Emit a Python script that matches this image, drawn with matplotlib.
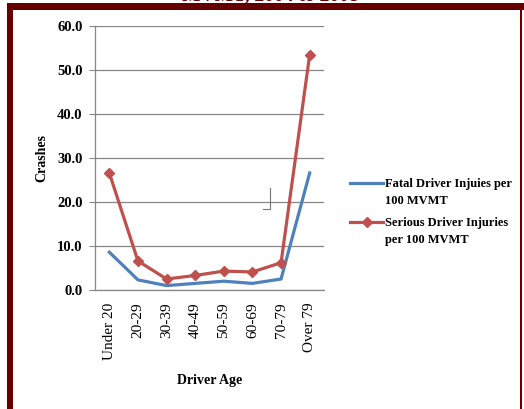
import matplotlib
matplotlib.use("Agg")
import matplotlib.pyplot as plt
from matplotlib.lines import Line2D
from matplotlib.patches import Rectangle
from matplotlib.legend_handler import HandlerLine2D

# Injury rates by driver age group
age_groups = ["Under 20", "20-29", "30-39", "40-49", "50-59", "60-69", "70-79", "Over 79"]
fatal = [8.6, 2.3, 1.0, 1.5, 2.0, 1.5, 2.5, 26.6]
serious = [26.6, 6.6, 2.5, 3.3, 4.3, 4.1, 6.2, 53.5]
y_ticks = [0, 10, 20, 30, 40, 50, 60]

plt.rcParams["font.family"] = ["Liberation Serif", "DejaVu Serif"]


class TopLineHandler(HandlerLine2D):
    """Legend line drawn level with the first line of a two-line label."""

    def create_artists(self, legend, orig_handle, xdescent, ydescent, width,
                       height, fontsize, trans):
        artists = super().create_artists(legend, orig_handle, xdescent, ydescent,
                                         width, height, fontsize, trans)
        for a in artists:
            a.set_ydata([y + 0.75 * fontsize for y in a.get_ydata()])
        return artists


W, H = 524, 409
fig = plt.figure(figsize=(W / 100, H / 100), dpi=100)
fig.patch.set_facecolor("white")

# Dark red slide frame
frame = "#660000"
fig.add_artist(Rectangle((7 / W, 0), 6 / W, 1 - 3 / H, transform=fig.transFigure,
                         color=frame, lw=0))
fig.add_artist(Rectangle((7 / W, 1 - 10 / H), 1 - 7 / W, 7 / H, transform=fig.transFigure,
                         color=frame, lw=0))
fig.add_artist(Rectangle((520 / W, 0), 2 / W, 1 - 3 / H, transform=fig.transFigure,
                         color=frame, lw=0))
fig.text(270 / W, 1 - 0.5 / H, "MVMT, 2004 to 2008", color=frame, fontsize=14,
         fontweight="bold", ha="center", va="baseline")

ax = fig.add_axes([95 / W, 1 - 290 / H, 229 / W, 264 / H])
x = list(range(len(age_groups)))
ax.plot(x, fatal, color="#4F81BD", lw=2.3, label="Fatal Driver Injuies per\n100 MVMT",
        solid_joinstyle="round")
ax.plot(x, serious, color="#C0504D", lw=2.3, marker="D", markersize=5.5,
        label="Serious Driver Injuries\nper 100 MVMT", solid_joinstyle="round")

ax.set_xlim(-0.5, len(age_groups) - 0.5)
ax.set_ylim(0, 60)
ax.set_yticks(y_ticks)
ax.set_yticklabels([f"{v:.1f}" for v in y_ticks], fontsize=10.5, fontweight="bold")
ax.set_xticks(x)
ax.set_xticklabels(age_groups, rotation=90, fontsize=11)
ax.tick_params(axis="x", length=0, pad=9)
ax.tick_params(axis="y", length=4, color="#868686", pad=5)
ax.yaxis.grid(True, color="#868686", lw=0.9)
ax.set_axisbelow(True)
for side in ["top", "right"]:
    ax.spines[side].set_visible(False)
for side in ["left", "bottom"]:
    ax.spines[side].set_color("#868686")
    ax.spines[side].set_linewidth(0.9)

ax.set_ylabel("Crashes", fontsize=10, fontweight="bold", labelpad=6)
ax.set_xlabel("Driver Age", fontsize=10, fontweight="bold", labelpad=10)

leg = ax.legend(loc="upper left", bbox_to_anchor=(344 / W, 1 - 172 / H),
                bbox_transform=fig.transFigure, frameon=False,
                prop={"weight": "bold", "size": 9}, handlelength=2.6, handletextpad=0.15,
                borderpad=0, labelspacing=0.75,
                handler_map={Line2D: TopLineHandler()})
for t in leg.get_texts():
    t.set_linespacing(1.55)

# Small stray bracket inside the plot area
fig.add_artist(Line2D([270 / W, 270 / W, 263 / W],
                      [1 - 188 / H, 1 - 209 / H, 1 - 209 / H],
                      transform=fig.transFigure, color="#777777", lw=0.8))

fig.savefig("out.png", dpi=100)
